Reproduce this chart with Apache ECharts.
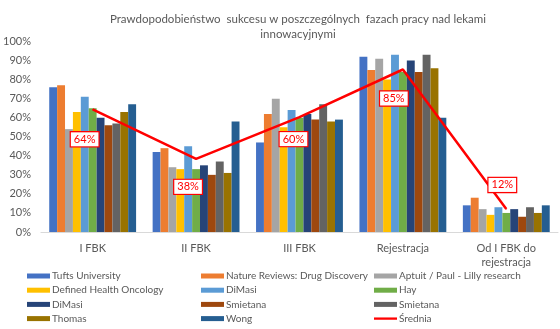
<!DOCTYPE html>
<html>
<head>
<meta charset="utf-8">
<script src="https://cdn.jsdelivr.net/npm/echarts@6/dist/echarts.min.js"></script>
<style>html,body{margin:0;padding:0;background:#fff}#c{width:560px;height:329px}</style>
</head>
<body>
<div id="c"></div>
<script>
const categories = ['I FBK', 'II FBK', 'III FBK', 'Rejestracja', 'Od I FBK do\nrejestracja'];
const yTicks = [0, 10, 20, 30, 40, 50, 60, 70, 80, 90, 100];

const tufts = [76, 42, 47, 92, 14];
const natureReviews = [77, 44, 62, 85, 18];
const aptuitPaul = [54, 34, 70, 91, 12];
const definedHealth = [63, 33, 55, 80, 9];
const diMasiA = [71, 45, 64, 93, 13];
const hay = [65, 33, 60, 84, 10];
const diMasiB = [60, 35, 62, 90, 12];
const smietanaA = [56, 30, 59, 84, 8];
const smietanaB = [57, 37, 67, 93, 13];
const thomas = [63, 31, 58, 86, 10];
const wong = [67, 58, 59, 60, 14];
const srednia = [64.4, 38.4, 60.3, 85.3, 12.1];

const barSeriesDefs = [
  ['Tufts University', tufts, '#4472C4'],
  ['Nature Reviews: Drug Discovery', natureReviews, '#ED7D31'],
  ['Aptuit / Paul - Lilly research', aptuitPaul, '#A5A5A5'],
  ['Defined Health Oncology', definedHealth, '#FFC000'],
  ['DiMasi', diMasiA, '#5B9BD5'],
  ['Hay', hay, '#70AD47'],
  ['DiMasi#2', diMasiB, '#264478'],
  ['Smietana', smietanaA, '#9E480E'],
  ['Smietana#2', smietanaB, '#636363'],
  ['Thomas', thomas, '#997300'],
  ['Wong', wong, '#255E91']
];
const lineName = 'Średnia';
const labelOffsets = [[-8, 30], [-8, 28], [-6, 22], [-9, 29], [-4, -24]];

const FONT = 'Lato, "Open Sans", sans-serif';
const TXT = '#595959';

const series = barSeriesDefs.map(([name, data, color]) => ({
  name, type: 'bar', data, itemStyle: { color },
  barGap: '0%', barCategoryGap: '16%'
}));
series.push({
  name: lineName, type: 'line', symbol: 'circle', symbolSize: 1, showSymbol: true,
  lineStyle: { color: '#FF0000', width: 2.5 }, itemStyle: { color: '#FF0000' },
  data: srednia.map((v, i) => ({
    value: v,
    label: { offset: labelOffsets[i] }
  })),
  label: {
    show: true, position: 'inside',
    formatter: p => Math.round(p.value) + '%',
    color: '#FF0000', fontSize: 11, fontFamily: FONT,
    backgroundColor: '#fff', borderColor: '#FF0000', borderWidth: 1.2,
    padding: [2, 3, 1, 3]
  },
  z: 5
});

const names = barSeriesDefs.map(d => d[0]).concat([lineName]);
const cols = [[], [], []];
names.forEach((n, i) => cols[i % 3].push(n));
const colLeft = [27, 201, 374];
const legends = cols.map((data, ci) => ({
  orient: 'vertical', left: colLeft[ci], top: 270, padding: 0,
  itemWidth: 23, itemHeight: 5, itemGap: 2.2,
  icon: 'rect', data: data.map(n => n === lineName ? { name: n, icon: 'path://M0,0 L20,0 L20,2 L0,2 Z' } : n),
  formatter: n => n.split('#')[0],
  textStyle: { color: TXT, fontSize: 10, fontFamily: FONT, lineHeight: 12, padding: [0, 0, 0, -3] },
  selectedMode: false
}));

const chart = echarts.init(document.getElementById('c'), null, { renderer: 'canvas' });
chart.setOption({
  animation: false,
  backgroundColor: '#fff',
  title: {
    text: 'Prawdopodobieństwo  sukcesu w poszczególnych  fazach pracy nad lekami\ninnowacyjnymi',
    left: 293, top: 7, textAlign: 'center',
    textStyle: { color: TXT, fontSize: 11.5, fontWeight: 'normal', fontFamily: FONT, lineHeight: 15 }
  },
  legend: legends,
  grid: { left: 37, right: 2, top: 41.5, bottom: 97, containLabel: false },
  xAxis: {
    type: 'category', data: categories,
    axisLine: { lineStyle: { color: '#D9D9D9' } },
    axisTick: { show: false },
    axisLabel: { color: TXT, fontSize: 11, fontFamily: FONT, margin: 9, lineHeight: 14, interval: 0 }
  },
  yAxis: {
    type: 'value', min: yTicks[0], max: yTicks[yTicks.length - 1], interval: 10,
    splitLine: { show: false },
    axisLine: { show: false }, axisTick: { show: false },
    axisLabel: { color: TXT, fontSize: 11, fontFamily: FONT, margin: 10, formatter: '{value}%' }
  },
  series
});
</script>
</body>
</html>
